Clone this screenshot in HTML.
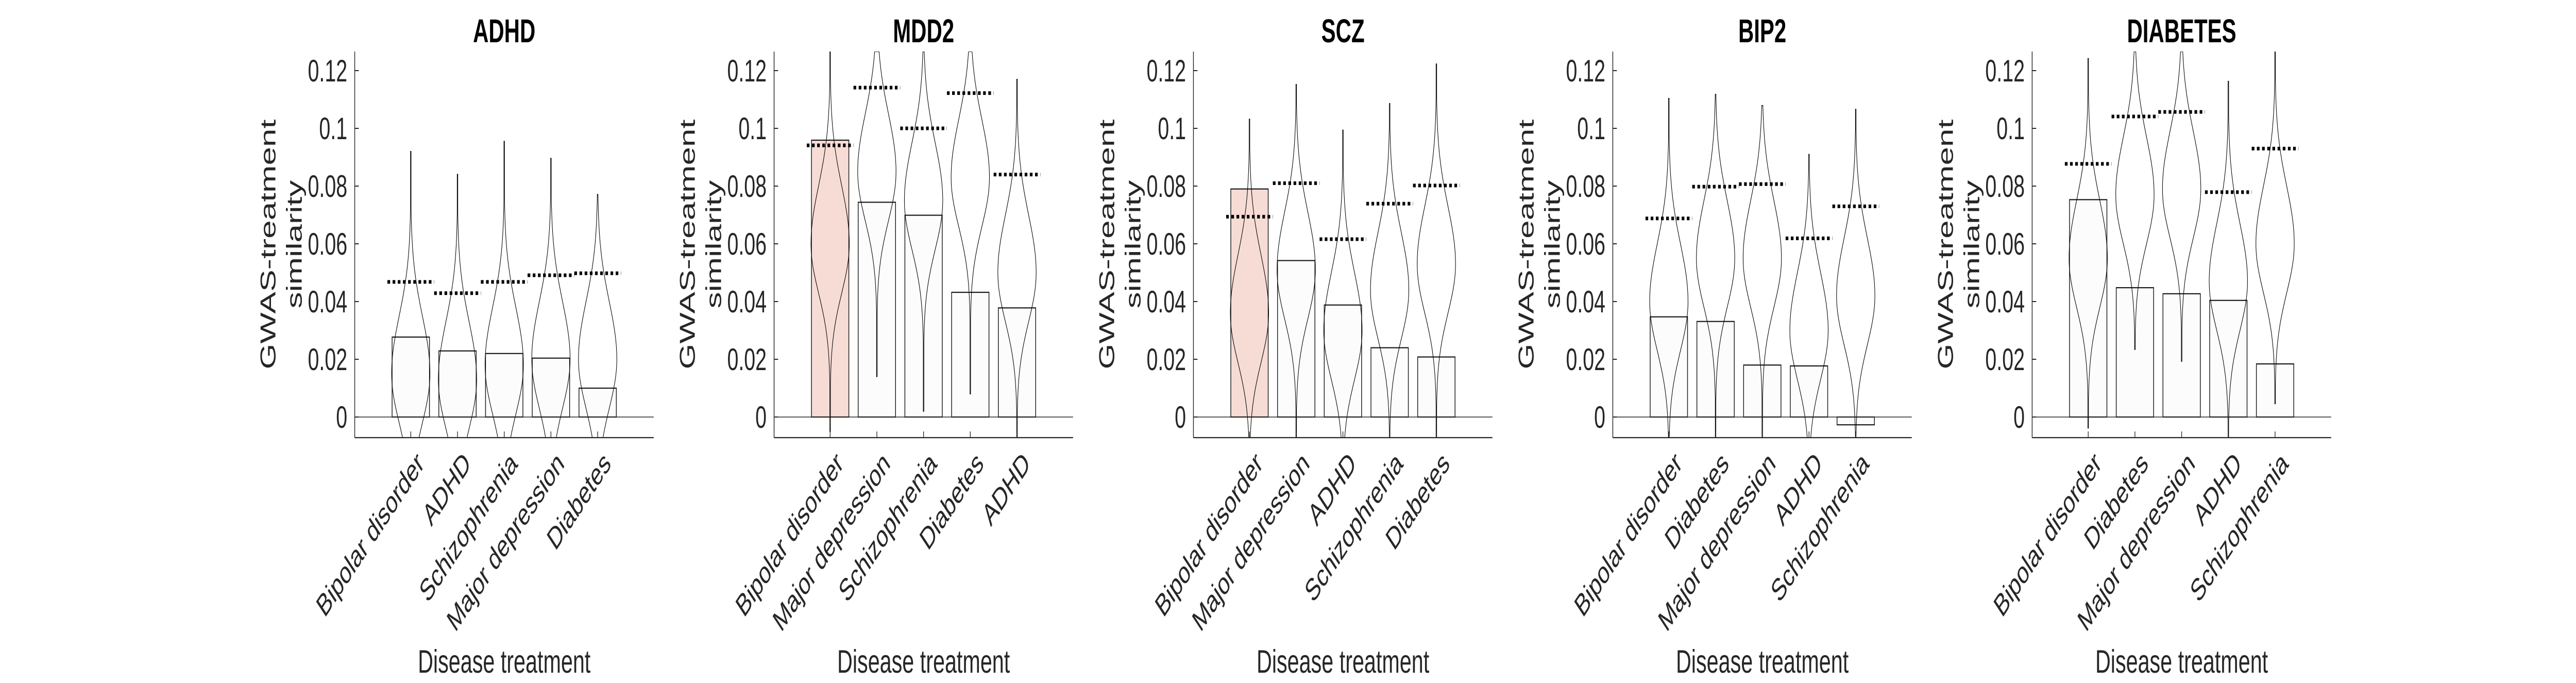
<!DOCTYPE html>
<html><head><meta charset="utf-8"><style>
html,body{margin:0;padding:0;background:#fff;overflow:hidden;width:100%;height:100%;}
svg{display:block;width:100vw;height:100vh;font-family:"Liberation Sans",Arial,sans-serif;}
</style></head><body>
<svg id="fig" viewBox="0 0 7625 1325" preserveAspectRatio="none" xmlns="http://www.w3.org/2000/svg"></svg>
<script>
const titles = ["ADHD","MDD2","SCZ","BIP2","DIABETES"];
const cats = [
  ["Bipolar disorder","ADHD","Schizophrenia","Major depression","Diabetes"],
  ["Bipolar disorder","Major depression","Schizophrenia","Diabetes","ADHD"],
  ["Bipolar disorder","Major depression","ADHD","Schizophrenia","Diabetes"],
  ["Bipolar disorder","Diabetes","Major depression","ADHD","Schizophrenia"],
  ["Bipolar disorder","Diabetes","Major depression","ADHD","Schizophrenia"]
];
const barVals = [
  [0.0277,0.0229,0.0220,0.0204,0.0100],
  [0.0959,0.0744,0.0699,0.0432,0.0378],
  [0.0790,0.0542,0.0388,0.0240,0.0208],
  [0.0347,0.0331,0.0180,0.0177,-0.0027],
  [0.0753,0.0448,0.0427,0.0404,0.0184]
];
const threshVals = [
  [0.0468,0.0429,0.0468,0.0491,0.0498],
  [0.0941,0.1141,0.1000,0.1122,0.0840],
  [0.0694,0.0810,0.0616,0.0739,0.0802],
  [0.0688,0.0798,0.0807,0.0619,0.0730],
  [0.0877,0.1041,0.1057,0.0779,0.0930]
];
const violinTop = [
  [0.0920,0.0841,0.0955,0.0896,0.0771],
  [0.135,0.135,0.135,0.135,0.1170],
  [0.1032,0.1152,0.0994,0.1086,0.1223],
  [0.1104,0.1118,0.1079,0.0910,0.1066],
  [0.1242,0.135,0.135,0.1163,0.135]
];
const violinBottom = [
  [-0.02,-0.02,-0.02,-0.02,-0.02],
  [-0.005,0.014,0.002,0.008,-0.02],
  [-0.02,-0.02,-0.02,-0.02,-0.02],
  [-0.02,-0.02,-0.02,-0.02,-0.02],
  [-0.0038,0.0234,0.0193,-0.02,0.0046]
];
const violinMode = [
  [0.015,0.013,0.018,0.020,0.020],
  [0.060,0.085,0.075,0.083,0.050],
  [0.036,0.051,0.030,0.044,0.053],
  [0.040,0.055,0.055,0.030,0.042],
  [0.055,0.077,0.079,0.047,0.060]
];
const highlight = [-1,0,0,-1,-1];
const yTicks = [0,0.02,0.04,0.06,0.08,0.1,0.12];
const yTickLabels = ["0","0.02","0.04","0.06","0.08","0.1","0.12"];

const NS="http://www.w3.org/2000/svg";
const svg=document.getElementById('fig');
function mk(tag,attrs,parent){const e=document.createElementNS(NS,tag);for(const k in attrs)e.setAttribute(k,attrs[k]);(parent||svg).appendChild(e);return e;}

const AX_W=885, Y0=809, PER=5600, YMAX=0.1266, YMIN=-0.00714;
function yS(v){return Y0 - v*PER;}
const defs=mk('defs',{});

titles.forEach((t,p)=>{
  const L=1050+p*1241.3;
  function xS(c){return L+(c+1+0.2)/6.4*AX_W;}
  const g=mk('g',{});
  
  
  const cp=mk('clipPath',{id:'cp'+p},defs);
  mk('rect',{x:L,y:yS(YMAX),width:AX_W,height:yS(YMIN)-yS(YMAX)},cp);

  barVals[p].forEach((v,i)=>{
    const x=xS(i)-0.4/6.4*AX_W, w=0.8/6.4*AX_W;
    const y=Math.min(yS(v),yS(0)), h=Math.abs(yS(v)-yS(0));
    const r=mk('rect',{x:x,y:y,width:w,height:h,fill:highlight[p]===i?'#f7dcd6':'#fcfcfc',stroke:'#1a1a1a','stroke-width':2.2},g);
    
    
  });
  const vg=mk('g',{'clip-path':'url(#cp'+p+')'},g);
  violinMode[p].forEach((m,i)=>{
    const top=Math.min(violinTop[p][i],YMAX), bot=Math.max(violinBottom[p][i],YMIN), cx=xS(i);
    const hwMax=0.41/6.4*AX_W;
    const N=160, right=[], left=[];
    for(let k=0;k<=N;k++){
      const y=bot+(top-bot)*k/N;
      const s=y>m?0.020:0.017;
      let w=hwMax*Math.exp(-0.5*Math.pow((y-m)/s,2));
      w=Math.max(w,0.9);
      right.push([cx+w,yS(y)]);left.push([cx-w,yS(y)]);
    }
    const pts=right.concat(left.reverse()).map(q=>q[0].toFixed(1)+','+q[1].toFixed(1)).join(' ');
    const pg=mk('polygon',{points:pts,fill:'none',stroke:'#000','stroke-width':1.6},vg);
    
    
  });
  threshVals[p].forEach((v,i)=>{
    const ln=mk('line',{x1:xS(i)-0.5/6.4*AX_W,x2:xS(i)+0.5/6.4*AX_W,y1:yS(v),y2:yS(v),stroke:'#000','stroke-width':7,'stroke-dasharray':'8 7.3'},g);
    
    
  });
  const zl=mk('line',{x1:L,x2:L+AX_W,y1:yS(0),y2:yS(0),stroke:'#262626','stroke-width':1.6},g);
  
  
  const ya=mk('line',{x1:L,x2:L,y1:yS(YMAX),y2:yS(YMIN),stroke:'#262626','stroke-width':2.2},g);
  
  
  const xa=mk('line',{x1:L,x2:L+AX_W,y1:yS(YMIN),y2:yS(YMIN),stroke:'#262626','stroke-width':2.2},g);
  
  
  yTicks.forEach((v,k)=>{
    mk('line',{x1:L,x2:L+12,y1:yS(v),y2:yS(v),stroke:'#262626','stroke-width':2},g);
    const tx=mk('text',{x:L-22,y:yS(v)+21,'text-anchor':'end','font-size':60,fill:'#262626'},g);
    tx.textContent=yTickLabels[k];
    
    
  });
  cats[p].forEach((c,i)=>{
    mk('line',{x1:xS(i),x2:xS(i),y1:yS(YMIN),y2:yS(YMIN)-12,stroke:'#262626','stroke-width':2},g);
    const ax=xS(i)+12, ay=872;
    const tx=mk('text',{x:ax,y:ay,'text-anchor':'end','font-size':60,fill:'#262626',transform:'rotate(-45 '+ax+' '+ay+')',dy:'0.72em'},g);
    tx.textContent=c;
    
    
  });
  const xl=mk('text',{x:L+AX_W/2,y:1305,'text-anchor':'middle','font-size':63,fill:'#262626'},g);
  xl.textContent='Disease treatment';
  
  
  const yl=mk('text',{transform:'translate('+(L-235)+' 474) rotate(-90)','text-anchor':'middle','font-size':64,fill:'#262626'},g);
  
  
  const t1=mk('tspan',{x:0,y:0},yl); t1.textContent='GWAS-treatment';
  const t2=mk('tspan',{x:0,y:78},yl); t2.textContent='similarity';
  const tt=mk('text',{x:L+AX_W/2,y:82,'text-anchor':'middle','font-size':64,'font-weight':'bold',fill:'#000'},g);
  tt.textContent=t;
  
  
});
</script>
</body></html>
